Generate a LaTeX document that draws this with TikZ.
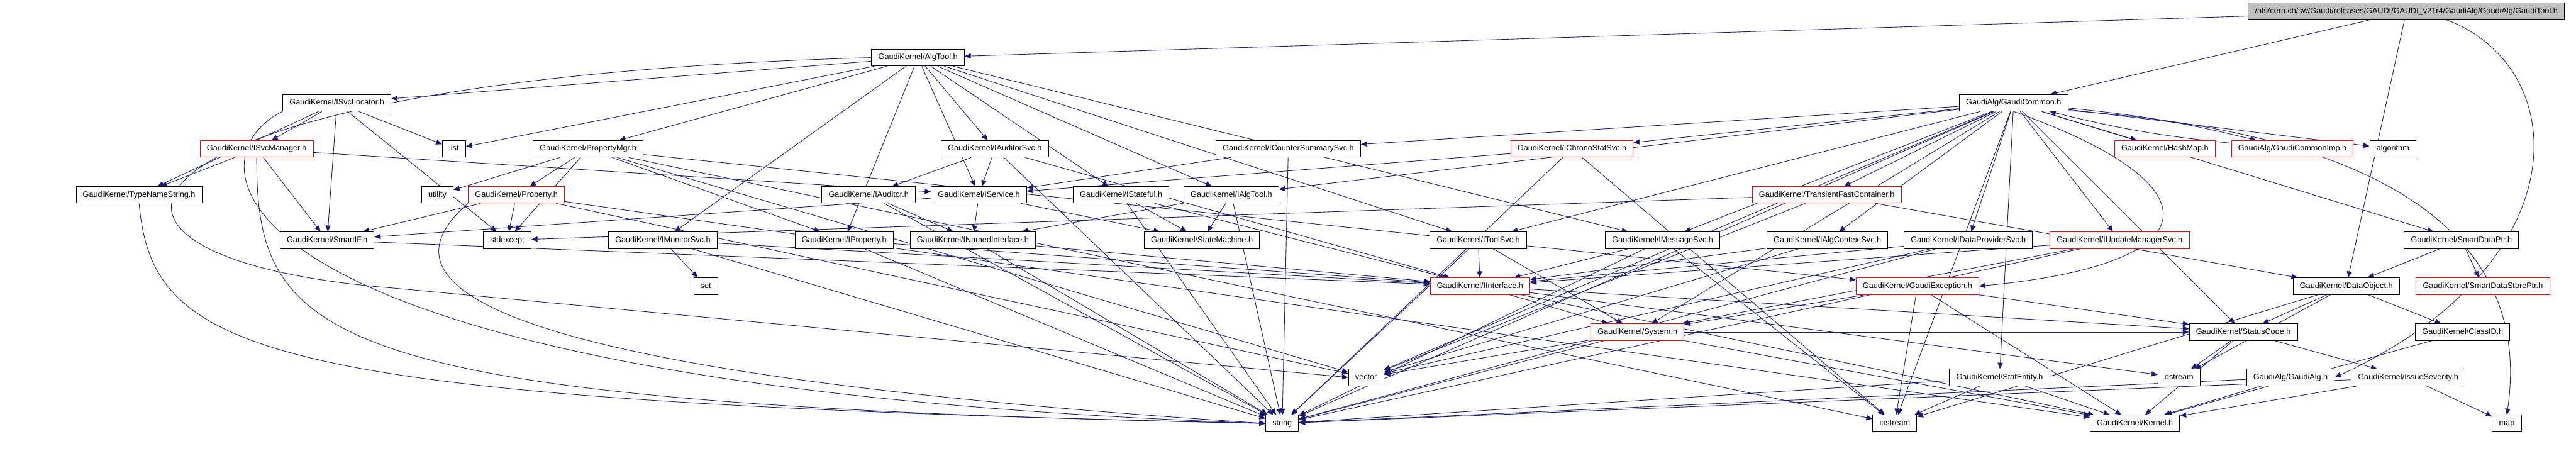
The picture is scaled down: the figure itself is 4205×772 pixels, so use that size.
\documentclass[tikz,border=0pt]{standalone}
\usepackage{fontspec}
\setmainfont{Liberation Sans}
\usetikzlibrary{arrows.meta}
\definecolor{edgecol}{RGB}{25,25,112}
\definecolor{redb}{RGB}{255,0,0}
\definecolor{grayf}{RGB}{191,191,191}
\pgfdeclarelayer{edgelayer}
\pgfsetlayers{edgelayer,main}
\begin{document}
\begin{tikzpicture}[x=1pt,y=-1pt,
 box/.style={draw=black, line width=1pt, fill=white, font=\fontsize{13}{15}\selectfont, inner xsep=11pt, inner ysep=0pt, minimum height=27pt, text height=9.5pt, text depth=2.8pt},
 redbox/.style={box, draw=redb},
 topbox/.style={box, fill=grayf},
 edge/.style={draw=edgecol, line width=0.9pt, -{Triangle[length=10pt,width=8.5pt]}}]
\useasboundingbox (0,0) rectangle (4205,772);
% row 0
\node[topbox] (top) at (3928,18.5) {/afs/cern.ch/sw/Gaudi/releases/GAUDI/GAUDI\_v21r4/GaudiAlg/GaudiAlg/GaudiTool.h};
% row 1
\node[box] (algtool) at (1498.5,94) {GaudiKernel/AlgTool.h};
% row 2
\node[box] (svcloc) at (550,168) {GaudiKernel/ISvcLocator.h};
\node[box] (gcommon) at (3287,168) {GaudiAlg/GaudiCommon.h};
% row 3
\node[redbox] (svcmgr) at (419,243) {GaudiKernel/ISvcManager.h};
\node[box] (list) at (741,243) {list};
\node[box] (propmgr) at (960,243) {GaudiKernel/PropertyMgr.h};
\node[box] (audsvc) at (1624,243) {GaudiKernel/IAuditorSvc.h};
\node[box] (ctrsum) at (2103,243) {GaudiKernel/ICounterSummarySvc.h};
\node[redbox] (chrono) at (2566,243) {GaudiKernel/IChronoStatSvc.h};
\node[redbox] (hashmap) at (3534,243) {GaudiKernel/HashMap.h};
\node[redbox] (gcimp) at (3742,243) {GaudiAlg/GaudiCommonImp.h};
\node[box] (algorithm) at (3906,243) {algorithm};
% row 4
\node[box] (tns) at (227,318) {GaudiKernel/TypeNameString.h};
\node[box] (utility) at (714,318) {utility};
\node[redbox] (property) at (843,318) {GaudiKernel/Property.h};
\node[box] (iauditor) at (1418,318) {GaudiKernel/IAuditor.h};
\node[box] (iservice) at (1598,318) {GaudiKernel/IService.h};
\node[box] (istateful) at (1830,318) {GaudiKernel/IStateful.h};
\node[box] (ialgtool) at (2010,318) {GaudiKernel/IAlgTool.h};
\node[redbox] (tfc) at (2982,318) {GaudiKernel/TransientFastContainer.h};
% row 5
\node[box] (smartif) at (534,392) {GaudiKernel/SmartIF.h};
\node[box] (stdexcept) at (828,392) {stdexcept};
\node[box] (imonitor) at (1082,392) {GaudiKernel/IMonitorSvc.h};
\node[box] (iproperty) at (1378,392) {GaudiKernel/IProperty.h};
\node[box] (inamed) at (1588,392) {GaudiKernel/INamedInterface.h};
\node[box] (statemach) at (1962,392) {GaudiKernel/StateMachine.h};
\node[box] (itoolsvc) at (2413,392) {GaudiKernel/IToolSvc.h};
\node[box] (imsgsvc) at (2714,392) {GaudiKernel/IMessageSvc.h};
\node[box] (ialgctx) at (2983,392) {GaudiKernel/IAlgContextSvc.h};
\node[box] (idatap) at (3213,392) {GaudiKernel/IDataProviderSvc.h};
\node[redbox] (iupdate) at (3460,392) {GaudiKernel/IUpdateManagerSvc.h};
\node[box] (sdptr) at (4018,392) {GaudiKernel/SmartDataPtr.h};
% row 6
\node[box] (set) at (1152,467) {set};
\node[redbox] (iinterface) at (2416,467) {GaudiKernel/IInterface.h};
\node[redbox] (gexc) at (3130,467) {GaudiKernel/GaudiException.h};
\node[box] (dataobj) at (3830,467) {GaudiKernel/DataObject.h};
\node[redbox] (sdsptr) at (4053,467) {GaudiKernel/SmartDataStorePtr.h};
% row 7
\node[redbox] (system) at (2673,542) {GaudiKernel/System.h};
\node[box] (statuscode) at (3662,542) {GaudiKernel/StatusCode.h};
\node[box] (classid) at (4020,542) {GaudiKernel/ClassID.h};
% row 8
\node[box] (vector) at (2230,616) {vector};
\node[box] (statentity) at (3264,616) {GaudiKernel/StatEntity.h};
\node[box] (ostream) at (3557,616) {ostream};
\node[box] (gaudialg) at (3739,616) {GaudiAlg/GaudiAlg.h};
\node[box] (issue) at (3931,616) {GaudiKernel/IssueSeverity.h};
% row 9
\node[box] (string) at (2093,691) {string};
\node[box] (iostream) at (3093,691) {iostream};
\node[box] (kernel) at (3485,691) {GaudiKernel/Kernel.h};
\node[box] (map) at (4092,691) {map};

\begin{pgfonlayer}{edgelayer}
\fill[white] (0,0) rectangle (4205,772);
\foreach \a/\b in {top/algtool, top/gcommon, top/dataobj,
 algtool/svcloc, algtool/list, algtool/propmgr, algtool/imonitor, algtool/iproperty, algtool/audsvc, algtool/iservice, algtool/istateful, algtool/ialgtool, algtool/itoolsvc, algtool/imsgsvc,
 svcloc/svcmgr, svcloc/tns, svcloc/smartif, svcloc/list, svcloc/stdexcept,
 svcmgr/tns, svcmgr/smartif, svcmgr/iservice,
 propmgr/utility, propmgr/property, propmgr/iproperty, propmgr/stdexcept, propmgr/iostream, propmgr/vector, propmgr/gexc,
 property/stdexcept, property/vector, property/smartif, property/kernel,
 iauditor/inamed, iauditor/string,
 audsvc/iauditor, audsvc/iservice, audsvc/string, audsvc/iinterface,
 iservice/inamed, iservice/statemach, iservice/smartif,
 istateful/statemach, istateful/iinterface, istateful/string,
 ialgtool/statemach, ialgtool/inamed, ialgtool/string,
 ctrsum/iservice, ctrsum/string,
 chrono/iservice, chrono/string, chrono/iostream,
 imonitor/set, imonitor/iinterface, imonitor/string,
 iproperty/iinterface, iproperty/string,
 inamed/iinterface, inamed/string,
 itoolsvc/iinterface, itoolsvc/string, itoolsvc/system,
 imsgsvc/iinterface, imsgsvc/iostream, imsgsvc/string,
 ialgctx/iinterface, ialgctx/vector,
 idatap/iinterface, idatap/string, idatap/vector,
 iupdate/iinterface, iupdate/system, iupdate/string,
 tfc/stdexcept, tfc/dataobj, tfc/vector,
 smartif/iinterface,
 gcommon/ctrsum, gcommon/chrono, gcommon/ialgtool, gcommon/itoolsvc, gcommon/imsgsvc, gcommon/string, gcommon/vector, gcommon/tfc, gcommon/ialgctx, gcommon/idatap, gcommon/iupdate, gcommon/hashmap, gcommon/algorithm, gcommon/sdptr, gcommon/statuscode, gcommon/system, gcommon/statentity, gcommon/iostream,
 sdptr/dataobj, sdptr/sdsptr,
 iinterface/system, iinterface/kernel, iinterface/statuscode, iinterface/ostream,
 gexc/system, gexc/statuscode, gexc/iostream, gexc/kernel,
 system/vector, system/string, system/kernel, system/statuscode,
 statentity/string, statentity/iostream, statentity/kernel,
 statuscode/ostream, statuscode/issue, statuscode/kernel,
 dataobj/statuscode, dataobj/classid, dataobj/ostream, dataobj/iostream,
 classid/kernel,
 issue/map, issue/kernel, issue/string,
 gaudialg/kernel, gaudialg/string}
 {\draw[edge] (\a) -- (\b);}
% curved connectors
\draw[edge] (top.-12) .. controls (4200,110) and (4215,430) .. (gaudialg.east);
\draw[edge] (algtool.west) .. controls (150,130) and (20,420) .. (640,470) -- (vector.west);
\draw[edge] (svcloc.south west) .. controls (300,260) and (330,630) .. (string.west);
\draw[edge] (svcmgr.south) .. controls (419,560) and (520,660) .. (string.west);
\draw[edge] (tns.south) .. controls (250,580) and (420,655) .. (string.west);
\draw[edge] (property.south west) .. controls (640,440) and (660,600) .. (string.west);
\draw[edge] (gcommon.-8) .. controls (3950,220) and (4130,420) .. (map.north);
\draw[edge] (gcommon.south) .. controls (3620,300) and (3620,430) .. (gexc.east);
\draw[edge] (gcommon) to[bend left=4] (gcimp);
\draw[edge] (gcimp) to[bend left=4] (gcommon);
\end{pgfonlayer}
\end{tikzpicture}
\end{document}
